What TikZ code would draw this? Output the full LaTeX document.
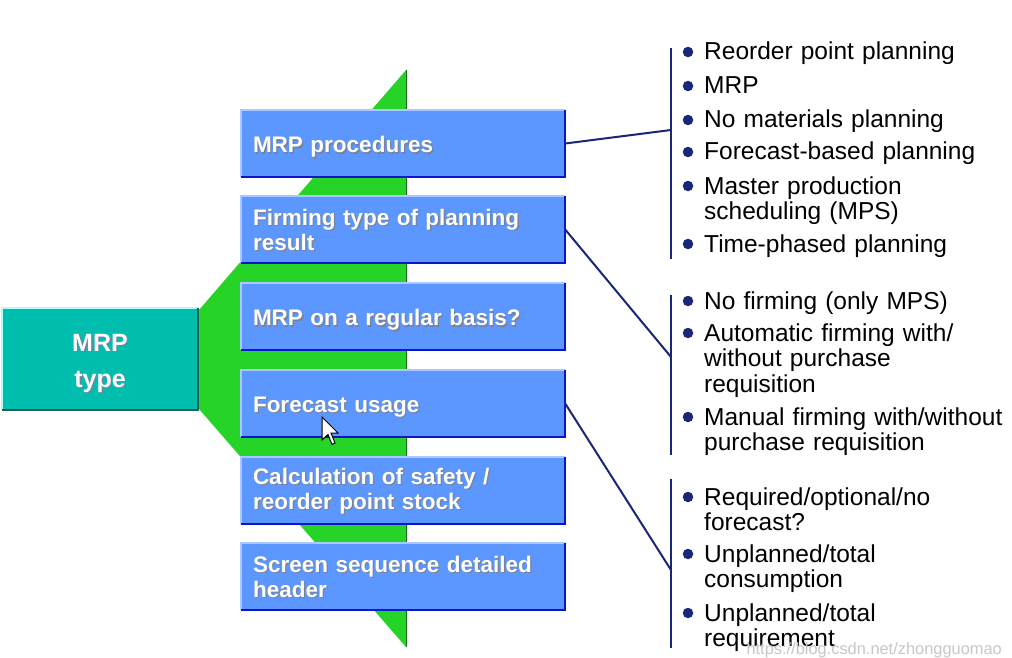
\documentclass[tikz,border=0pt]{standalone}
\usepackage{fontspec}
\setmainfont{Liberation Sans}

\definecolor{boxblue}{RGB}{92,150,255}
\definecolor{boxlight}{RGB}{170,200,255}
\definecolor{boxdark}{RGB}{10,22,205}
\definecolor{teal}{RGB}{0,190,174}
\definecolor{teallight}{RGB}{176,255,246}
\definecolor{tealdark}{RGB}{30,92,86}
\definecolor{fan}{RGB}{38,212,40}
\definecolor{fandark}{RGB}{20,110,20}
\definecolor{navy}{RGB}{26,38,120}
\definecolor{txtshadow}{RGB}{120,130,160}

% bevelled edge of a box: light top/left, dark right/bottom
\newcommand\bevel[3]{%
  \draw[#2,line width=1.5pt] (#1.south west) -- (#1.north west) -- (#1.north east);
  \draw[#3,line width=2.5pt] (#1.north east) -- (#1.south east) -- (#1.south west);}

% white box caption with a soft drop shadow; optional downward offset
\newcommand\boxlabel[3][0]{%
  \node[boxlbl,text=txtshadow] at ([shift={(1.3,1.3+#1)}]#2.west) {#3};
  \node[boxlbl] at ([shift={(0,#1)}]#2.west) {#3};}

\begin{document}
\begin{tikzpicture}[x=1pt,y=-1pt,
  blubox/.style={fill=boxblue,minimum width=324pt,minimum height=67pt,inner sep=0pt},
  boxlbl/.style={anchor=west,text width=300pt,align=left,inner xsep=12pt,inner ysep=0pt,
    font=\fontsize{22.5}{25}\selectfont\bfseries,text=white},
  item/.style={anchor=base west,text width=305pt,align=left,inner sep=0pt,
    font=\fontsize{24.5}{25.5}\selectfont,text=black},
  dot/.style={circle,fill=navy,inner sep=0pt,minimum size=10.5pt},
  link/.style={navy,line width=2pt},
  bracket/.style={navy,line width=2pt}]
\useasboundingbox (0,0) rectangle (1012,658);
\fill[white] (0,0) rectangle (1012,658);

% green fan behind the option boxes
\fill[fan] (199,310) -- (406,70) -- (406,647) -- (199,409) -- cycle;
\draw[fandark,line width=1.5pt] (406.5,70) -- (406.5,647);

% central box
\node[fill=teal,minimum width=196pt,minimum height=102pt,inner sep=0pt] (mrp) at (100,359) {};
\bevel{mrp}{teallight}{tealdark}
\node[align=center,text=txtshadow,font=\fontsize{25}{36}\selectfont\bfseries]
  at ([shift={(1.3,5.3)}]mrp.center) {MRP\\type};
\node[align=center,text=white,font=\fontsize{25}{36}\selectfont\bfseries]
  at ([shift={(0,4)}]mrp.center) {MRP\\type};

% option boxes
\node[blubox] (b1) at (403,143.5) {};
\node[blubox] (b2) at (403,229.5) {};
\node[blubox] (b3) at (403,316.5) {};
\node[blubox] (b4) at (403,403.5) {};
\node[blubox] (b5) at (403,490.5) {};
\node[blubox] (b6) at (403,576.5) {};
\foreach \b in {b1,b2,b3,b4,b5,b6}{\bevel{\b}{boxlight}{boxdark}}
\boxlabel[3.5]{b1}{MRP procedures}
\boxlabel[0.5]{b2}{Firming type of planning\\result}
\boxlabel[3.5]{b3}{MRP on a regular basis?}
\boxlabel[3.5]{b4}{Forecast usage}
\boxlabel[0.5]{b5}{Calculation of safety /\\reorder point stock}
\boxlabel[0.5]{b6}{Screen sequence detailed\\header}

% mouse pointer
\filldraw[fill=white,draw=black,line width=1pt,line join=miter,shift={(322,417)}]
  (0,0) -- (0,23) -- (6,17.5) -- (10,27.5) -- (13,26) -- (9,16) -- (16,16) -- cycle;

% brackets of the value lists
\coordinate (g1t) at (671,48);  \coordinate (g1b) at (671,259); \coordinate (c1) at (671,130);
\coordinate (g2t) at (671,295); \coordinate (g2b) at (671,455); \coordinate (c2) at (671,357);
\coordinate (g3t) at (671,479); \coordinate (g3b) at (671,648); \coordinate (c3) at (671,570);
\draw[bracket] (g1t) -- (g1b);
\draw[bracket] (g2t) -- (g2b);
\draw[bracket] (g3t) -- (g3b);
\draw[link] (b1.east) -- (c1);
\draw[link] (b2.east) -- (c2);
\draw[link] (b4.east) -- (c3);

% value lists
\foreach \y/\t [count=\i] in {
  52/Reorder point planning,
  86/MRP,
  120/No materials planning,
  152/Forecast-based planning,
  186/{Master production\\scheduling (MPS)},
  244/Time-phased planning,
  301/No firming (only MPS),
  333/{Automatic firming with/\\without purchase\\requisition},
  417/{Manual firming with/without\\purchase requisition},
  497/{Required/optional/no\\forecast?},
  554/{Unplanned/total\\consumption},
  613/{Unplanned/total\\requirement}}{
  \node[dot] (d\i) at (688,\y) {};
  \node[item] (t\i) at (704,\y+8) {\t};
}

% blog watermark
\node[anchor=base east,inner sep=0pt,text=black!22,font=\fontsize{16.4}{18}\selectfont]
  (wm) at (1002,654) {https://blog.csdn.net/zhongguomao};
\end{tikzpicture}
\end{document}
